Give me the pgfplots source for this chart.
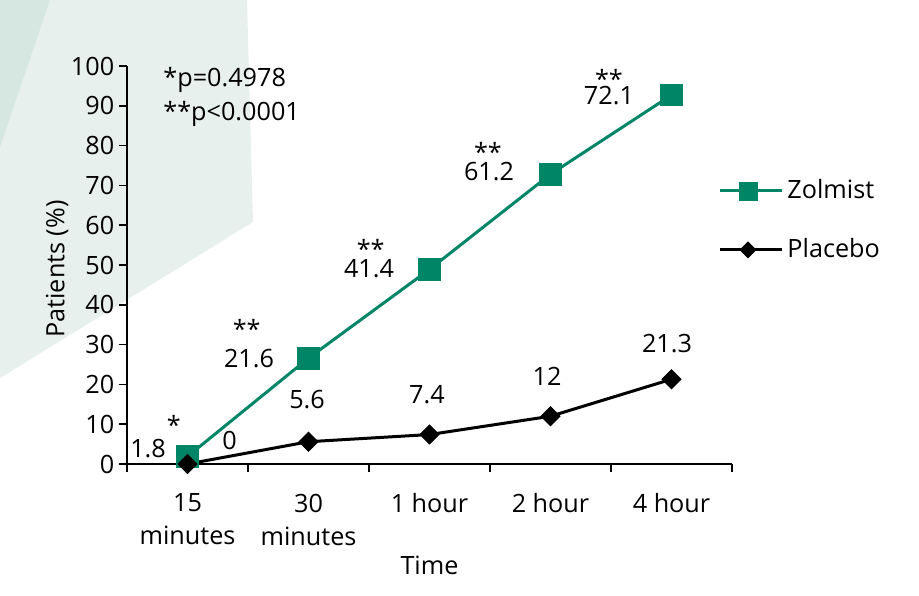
\documentclass[border=0pt]{standalone}
\usepackage{pgfplots}
\pgfplotsset{compat=1.18}
\usepackage{fontspec}
\setmainfont{Open Sans}
\definecolor{zgreen}{RGB}{0,133,102}
\definecolor{bglight}{RGB}{231,240,237}
\definecolor{bgdark}{RGB}{214,231,226}
\newcommand{\starlbl}[1]{\raisebox{0pt}[\height][-0.38em]{#1}}
\begin{document}
\fontsize{12.6}{16.5}\selectfont
\begin{tikzpicture}
\useasboundingbox (0,0) rectangle (459.5pt,297.5pt);
\fill[bglight] (0,297.5pt) -- (123.5pt,297.5pt) -- (126.5pt,186.5pt) -- (0,108.5pt) -- cycle;
\fill[bgdark] (0,297.5pt) -- (25pt,297.5pt) -- (0,224pt) -- cycle;
\begin{axis}[
  at={(63.5pt,65.5pt)}, anchor=south west,
  scale only axis, width=302.5pt, height=199pt,
  xmin=-0.5, xmax=4.5, ymin=0, ymax=100,
  clip=false,
  axis lines=left, axis line style={-, line width=0.9pt, black},
  tick align=outside,
  major tick length=4pt,
  tick style={line width=0.8pt, black},
  xtick={-0.5,0.5,1.5,2.5,3.5,4.5},
  xticklabels={,,,,,},
  extra x ticks={0,1,2,3,4},
  extra x tick labels={15\\minutes,30\\minutes,1 hour,2 hour,4 hour},
  extra x tick style={major tick length=0pt, xticklabel style={align=center, anchor=north, yshift=-10.5pt}},
  ytick={0,10,20,30,40,50,60,70,80,90,100},
  yticklabels={0,10,20,30,40,50,60,70,80,90,100},
  yticklabel style={xshift=2pt},
  xlabel={Time}, ylabel={Patients (\%)},
  xlabel style={at={(axis description cs:0.5,-0.2538)}, anchor=center},
  ylabel style={at={(axis description cs:-0.1157,0.49)}, anchor=center},
  legend style={draw=none, fill=none, at={(axis description cs:0.977,0.612)}, anchor=west,
    row sep=14pt, inner sep=0pt, cells={anchor=west}},
  legend image code/.code={\draw[#1, line width=0.8pt, mark repeat=2, mark phase=2, every mark/.append style={scale=0.83}] plot coordinates {(0pt,0pt) (14pt,0pt) (28pt,0pt)}; \path (0pt,0pt) -- (31pt,0pt);},
]
\addplot[zgreen, line width=1.5pt, mark=square*, mark size=5.4pt, mark options={solid, line width=0.4pt, fill=zgreen}]
  coordinates {(0,1.9) (1,26.6) (2,48.9) (3,72.8) (4,92.7)};
\addlegendentry{Zolmist}
\addplot[black, line width=1.5pt, mark=square*, mark size=3.4pt, mark options={solid, rotate=45, line width=0.4pt, fill=black}]
  coordinates {(0,0) (1,5.6) (2,7.4) (3,12) (4,21.3)};
\addlegendentry{Placebo}
% value labels
\begin{scope}[every node/.style={anchor=base, inner sep=0pt}]
\node at (axis cs:-0.326,1.51) {1.8};
\node at (axis cs:-0.112,7.29) {\starlbl{*}};
\node at (axis cs:0.508,24.37) {21.6};
\node at (axis cs:0.489,31.6) {\starlbl{**}};
\node at (axis cs:1.5,46.98) {41.4};
\node at (axis cs:1.514,51.7) {\starlbl{**}};
\node at (axis cs:2.492,71.11) {61.2};
\node at (axis cs:2.483,76.1) {\starlbl{**}};
\node at (axis cs:3.483,90.45) {72.1};
\node at (axis cs:3.483,94.4) {\starlbl{**}};
\node at (axis cs:0.347,3.52) {0};
\node at (axis cs:0.988,14.07) {5.6};
\node at (axis cs:1.979,15.08) {7.4};
\node at (axis cs:2.971,19.85) {12};
\node at (axis cs:3.963,28.14) {21.3};
\node[anchor=base west] at (axis cs:-0.2025,94.8) {*p=0.4978};
\node[anchor=base west] at (axis cs:-0.2025,86.43) {**p<0.0001};
\end{scope}
\end{axis}
\end{tikzpicture}
\end{document}
